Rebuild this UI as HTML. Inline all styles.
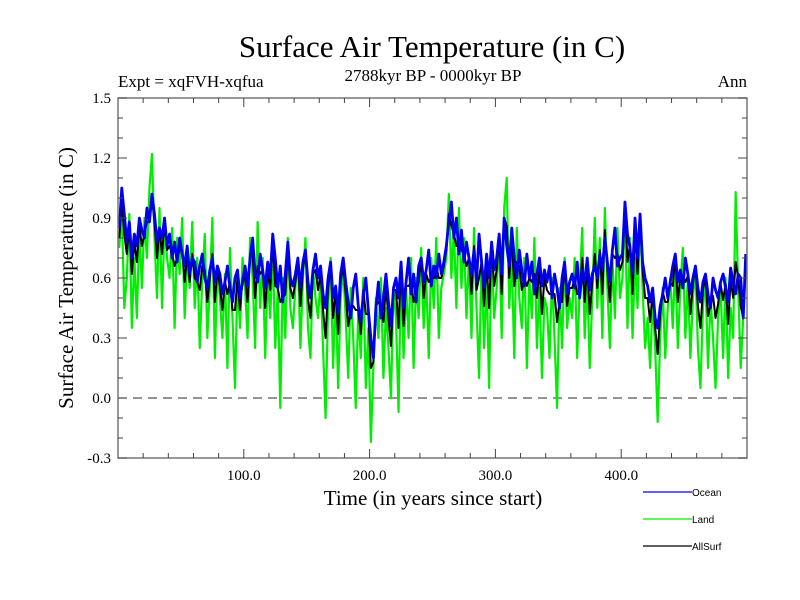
<!DOCTYPE html>
<html><head><meta charset="utf-8"><style>
html,body{margin:0;padding:0;background:#fff;}
svg{display:block;font-family:"Liberation Serif",serif;}
</style></head><body>
<svg id="chart" width="800" height="600">
<text x="432" y="57" font-size="31" text-anchor="middle">Surface Air Temperature (in C)</text>
<text x="433" y="81" font-size="17" text-anchor="middle">2788kyr BP - 0000kyr BP</text>
<text x="118" y="87" font-size="17">Expt = xqFVH-xqfua</text>
<text x="747" y="87" font-size="17" text-anchor="end">Ann</text>
<text transform="translate(73,278) rotate(-90)" font-size="21" text-anchor="middle">Surface Air Temperature (in C)</text>
<text x="433" y="505" font-size="21" text-anchor="middle">Time (in years since start)</text>
<g id="plot"></g>
<g id="legend" font-family="Liberation Sans, sans-serif" font-size="10"></g>
</svg>
<script>
const ocean=[.85,1.05,.92,.78,.88,.70,.82,.76,.90,.84,.80,.95,.88,1.02,.92,.78,.85,.80,.90,.76,.82,.70,.78,.68,.80,.72,.66,.76,.62,.70,.68,.58,.66,.72,.60,.55,.64,.70,.58,.66,.62,.52,.58,.66,.55,.48,.60,.64,.50,.58,.66,.56,.70,.80,.62,.58,.72,.64,.55,.68,.60,.82,.70,.55,.66,.48,.62,.78,.60,.56,.62,.70,.55,.68,.74,.58,.50,.64,.72,.60,.66,.52,.45,.60,.68,.50,.56,.42,.62,.70,.58,.48,.40,.55,.62,.46,.38,.52,.60,.44,.30,.20,.45,.58,.40,.50,.62,.48,.36,.55,.60,.50,.68,.45,.58,.70,.52,.62,.48,.66,.70,.58,.64,.74,.56,.66,.60,.72,.62,.68,.76,.88,.98,.80,.90,.72,.84,.68,.78,.70,.62,.74,.58,.82,.68,.55,.72,.60,.78,.64,.70,.82,.62,.90,.76,.66,.85,.70,.60,.74,.64,.56,.72,.60,.68,.52,.62,.70,.56,.64,.58,.66,.50,.62,.55,.45,.60,.68,.52,.58,.62,.55,.68,.50,.64,.58,.70,.54,.62,.66,.60,.72,.64,.80,.68,.58,.74,.85,.66,.70,.72,.98,.82,.75,.62,.90,.70,.92,.68,.60,.56,.48,.55,.40,.35,.46,.52,.60,.50,.58,.66,.72,.58,.64,.55,.70,.62,.52,.60,.66,.55,.48,.58,.62,.52,.45,.60,.54,.50,.58,.62,.55,.48,.65,.58,.52,.62,.60,.40,.72];
const land=[.75,.95,.45,.60,.92,.35,.70,.40,.85,.55,.90,.70,1.05,1.22,.80,.50,.95,.45,.88,.70,.60,.85,.35,.80,.62,.90,.40,.72,.55,.88,.45,.70,.25,.60,.82,.30,.55,.90,.20,.65,.50,.30,.62,.15,.75,.40,.05,.60,.35,.70,.55,.30,.80,.60,.25,.88,.45,.70,.20,.62,.40,.75,.25,.55,-.05,.60,.30,.80,.45,.35,.55,.70,.25,.60,.80,.35,.20,.65,.50,.40,.60,.25,-.10,.45,.70,.15,.55,.05,.50,.65,.40,.10,.55,.30,-.05,.45,.20,.60,.05,.35,-.22,.15,.50,.30,.60,.10,.45,.25,.00,.55,.40,-.07,.65,.20,.55,.30,.70,.15,.60,.40,.75,.35,.60,.20,.70,.45,.80,.30,.55,.62,.70,1.02,.60,.85,.45,.95,.55,.80,.40,.72,.30,.85,.45,.10,.70,.25,.60,.05,.75,.40,.55,.80,.30,.95,1.10,.45,.70,.20,.85,.50,.35,.70,.15,.60,.40,.80,.25,.55,.10,.50,.45,.20,.60,.30,-.05,.55,.25,.70,.35,.50,.40,.70,.20,.55,.85,.30,.60,.15,.50,.90,.45,.80,.30,.95,.55,.25,.70,.40,.85,.50,.60,.95,.35,.80,.30,.70,.45,.92,.55,.25,.40,.15,.50,.25,-.12,.30,.55,.20,.45,.60,.35,.70,.25,.55,.75,.30,.60,.20,.50,.65,.25,.05,.45,.60,.15,.50,.30,.05,.40,.55,.20,.60,.10,.45,.30,1.03,.55,.15,.40,.65];
const allSurf=[.80,.98,.82,.72,.86,.62,.78,.68,.86,.76,.82,.88,.88,1.00,.88,.70,.85,.72,.88,.74,.76,.72,.66,.70,.74,.74,.58,.72,.58,.72,.60,.58,.54,.66,.64,.48,.60,.72,.48,.64,.56,.44,.58,.52,.58,.44,.44,.60,.44,.60,.60,.48,.72,.72,.50,.66,.62,.64,.45,.64,.54,.78,.56,.55,.48,.50,.52,.74,.55,.50,.58,.68,.46,.64,.74,.50,.40,.62,.64,.54,.62,.44,.30,.55,.66,.40,.54,.32,.58,.66,.52,.36,.44,.46,.44,.44,.32,.54,.42,.42,.15,.18,.46,.48,.46,.38,.56,.40,.26,.54,.54,.35,.66,.36,.56,.56,.58,.48,.52,.58,.70,.50,.62,.58,.60,.60,.66,.60,.60,.66,.74,.92,.86,.82,.76,.78,.74,.72,.66,.70,.52,.76,.54,.60,.68,.46,.68,.45,.76,.56,.64,.80,.52,.90,.86,.60,.80,.56,.68,.66,.54,.60,.56,.60,.58,.62,.50,.65,.42,.60,.54,.52,.52,.52,.38,.48,.48,.68,.46,.55,.55,.60,.52,.52,.70,.48,.67,.42,.58,.72,.55,.74,.52,.84,.64,.48,.72,.70,.72,.64,.68,.96,.68,.77,.52,.84,.62,.92,.64,.50,.50,.38,.53,.35,.22,.42,.53,.48,.48,.58,.56,.71,.48,.61,.61,.58,.61,.42,.57,.66,.46,.35,.54,.61,.41,.47,.51,.40,.47,.57,.49,.57,.37,.59,.50,.68,.60,.46,.40,.70];
const yearStep=2;
const xTickLabels=["100.0","200.0","300.0","400.0"];
const xTickValues=[100,200,300,400];
const yTickLabels=["-0.3","0.0","0.3","0.6","0.9","1.2","1.5"];
const yTickValues=[-0.3,0,0.3,0.6,0.9,1.2,1.5];

const L=118,R=747,T=98,B=458,XMIN=0,XMAX=500,YMIN=-0.3,YMAX=1.5;
const xs=v=>L+(v-XMIN)/(XMAX-XMIN)*(R-L);
const ys=v=>B-(v-YMIN)/(YMAX-YMIN)*(B-T);
const NS="http://www.w3.org/2000/svg";
const plot=document.getElementById('plot');
function mk(tag,attrs,parent){const e=document.createElementNS(NS,tag);for(const k in attrs)e.setAttribute(k,attrs[k]);(parent||plot).appendChild(e);return e;}

const zl=mk('line',{x1:L,x2:R,y1:ys(0),y2:ys(0),stroke:'#555','stroke-width':1.2,'stroke-dasharray':'9,6'});



function series(arr,color,name,w){
  const pts=arr.map((v,i)=>xs(i*yearStep+1)+','+ys(v).toFixed(1)).join(' ');
  const p=mk('polyline',{points:pts,fill:'none',stroke:color,'stroke-width':w,'stroke-linejoin':'round'});
  
  
}
series(land,'#00ee00','land-series',2.2);
series(allSurf,'#000000','allsurf-series',2);
series(ocean,'#0000ee','ocean-series',2.8);

const frame=mk('rect',{x:L,y:T,width:R-L,height:B-T,fill:'none',stroke:'#777','stroke-width':1.5});



for(let v=20;v<500;v+=20){
  const major=v%100===0,len=major?9:5;
  mk('line',{x1:xs(v),x2:xs(v),y1:B,y2:B-len,stroke:'#444'});
  mk('line',{x1:xs(v),x2:xs(v),y1:T,y2:T+len,stroke:'#444'});
}
xTickValues.forEach((v,i)=>{
  const t=mk('text',{x:xs(v),y:B+22,'font-size':15,'text-anchor':'middle'});
  t.textContent=xTickLabels[i];
  
  
});
for(let k=-3;k<=15;k++){
  const v=k/10,major=k%3===0,len=major?9:5;
  mk('line',{x1:L,x2:L+len,y1:ys(v),y2:ys(v),stroke:'#444'});
  mk('line',{x1:R,x2:R-len,y1:ys(v),y2:ys(v),stroke:'#444'});
}
yTickValues.forEach((v,i)=>{
  const t=mk('text',{x:L-7,y:ys(v)+5,'font-size':15,'text-anchor':'end'});
  t.textContent=yTickLabels[i];
  
  
});

const lg=document.getElementById('legend');
[['Ocean','#0000ee',492],['Land','#00ee00',519],['AllSurf','#000',546]].forEach(([n,c,y])=>{
  const g=mk('g',{},lg);
  
  
  mk('line',{x1:643,x2:692,y1:y,y2:y,stroke:c,'stroke-width':1.3},g);
  const t=mk('text',{x:692,y:y+4},g);t.textContent=n;
});
</script>
</body></html>
